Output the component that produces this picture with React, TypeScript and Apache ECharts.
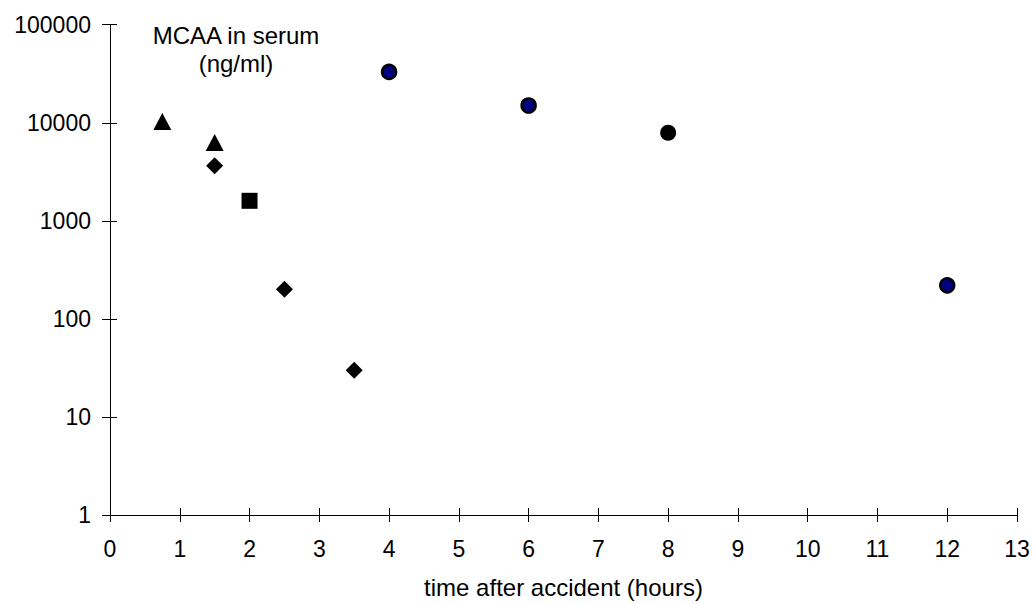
import React, { useEffect, useRef } from "react";
import * as echarts from "echarts";

const triangleData: number[][] = [[0.75, 10300], [1.5, 6300]];
const diamondData: number[][] = [[1.5, 3650], [2.5, 200], [3.5, 30]];
const squareData: number[][] = [[2, 1600]];
const blueCircleData: number[][] = [[4, 33000], [6, 15000], [12, 220]];
const blackCircleData: number[][] = [[8, 7900]];

const xTitle = "time after accident (hours)";
const chartTitle = "MCAA in serum\n(ng/ml)";

const FONT = "'Liberation Sans', Arial, sans-serif";

export default function App() {
  const ref = useRef<HTMLDivElement>(null);
  useEffect(() => {
    if (!ref.current) return;
    const chart = echarts.init(ref.current, undefined, { renderer: "svg" });
    const axisLine = { show: true, lineStyle: { color: "#000", width: 1 } };
    const labelStyle = { color: "#000", fontSize: 23, fontFamily: FONT };
    chart.setOption({
      animation: false,
      backgroundColor: "#fff",
      textStyle: { fontFamily: FONT },
      title: {
        text: chartTitle,
        left: 236,
        top: 21,
        padding: 0,
        textAlign: "center",
        textStyle: { fontSize: 24, fontWeight: "normal", color: "#000", lineHeight: 28, fontFamily: FONT, align: "center" },
      },
      grid: { left: 110, right: 16, top: 24.7, bottom: 85.7, containLabel: false },
      xAxis: [
        {
          type: "value",
          min: 0,
          max: 13,
          interval: 1,
          position: "bottom",
          axisLine,
          axisTick: { show: true, inside: false, length: 7, lineStyle: { color: "#000" } },
          axisLabel: { ...labelStyle, margin: 22 },
          splitLine: { show: false },
          name: xTitle,
          nameLocation: "middle",
          nameGap: 60,
          nameTextStyle: { color: "#000", fontSize: 24, fontFamily: FONT },
        },
        {
          type: "value",
          min: 0,
          max: 13,
          interval: 1,
          position: "bottom",
          axisLine: { show: false },
          axisTick: { show: true, inside: true, length: 7, lineStyle: { color: "#000" } },
          axisLabel: { show: false },
          splitLine: { show: false },
        },
      ],
      yAxis: [
        {
          type: "log",
          logBase: 10,
          min: 1,
          max: 100000,
          position: "left",
          axisLine,
          axisTick: { show: true, inside: false, length: 8, lineStyle: { color: "#000" } },
          axisLabel: { ...labelStyle, margin: 19, formatter: (v: number) => String(Math.round(v)) },
          splitLine: { show: false },
          minorTick: { show: false },
        },
        {
          type: "log",
          logBase: 10,
          min: 1,
          max: 100000,
          position: "left",
          axisLine: { show: false },
          axisTick: { show: true, inside: true, length: 7, lineStyle: { color: "#000" } },
          axisLabel: { show: false },
          splitLine: { show: false },
        },
      ],
      series: [
        {
          type: "scatter",
          name: "triangle",
          data: triangleData,
          symbol: "triangle",
          symbolSize: [18, 17],
          itemStyle: { color: "#000", opacity: 1 },
        },
        {
          type: "scatter",
          name: "diamond",
          data: diamondData,
          symbol: "diamond",
          symbolSize: [17, 17],
          itemStyle: { color: "#000", opacity: 1 },
        },
        {
          type: "scatter",
          name: "square",
          data: squareData,
          symbol: "rect",
          symbolSize: [16, 16],
          itemStyle: { color: "#000", opacity: 1 },
        },
        {
          type: "scatter",
          name: "blue",
          data: blueCircleData,
          symbol: "circle",
          symbolSize: 14,
          itemStyle: { color: "#000080", borderColor: "#000", borderWidth: 2.5, opacity: 1 },
        },
        {
          type: "scatter",
          name: "black",
          data: blackCircleData,
          symbol: "circle",
          symbolSize: 16,
          itemStyle: { color: "#000", opacity: 1 },
        },
      ],
    });
    return () => chart.dispose();
  }, []);
  return (
    <div
      ref={ref}
      style={{ position: "absolute", left: 0, top: 0, width: 1033, height: 604, background: "#fff" }}
    />
  );
}
